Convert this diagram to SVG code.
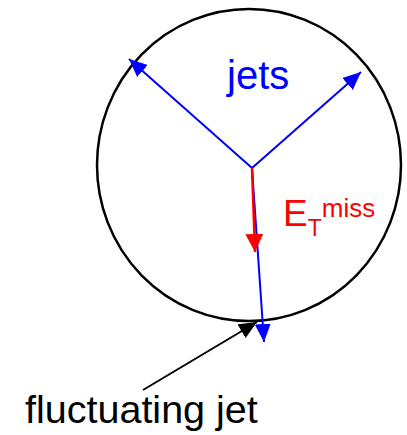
<svg xmlns="http://www.w3.org/2000/svg" width="407" height="435" viewBox="0 0 407 435">
  <style>
    .lbl { font-family: "Liberation Sans", Arial, sans-serif; }
    .blue { stroke: #0000ff; stroke-width: 2; fill: none; }
    .red { stroke: #ff0000; stroke-width: 2.5; fill: none; }
    .black { stroke: #000000; stroke-width: 2; fill: none; }
  </style>
  <defs>
    <marker id="hb" markerUnits="userSpaceOnUse" markerWidth="20" markerHeight="18" refX="18" refY="8" orient="auto">
      <path d="M0,0 L18,8 L0,16 z" fill="#0000ff"/>
    </marker>
    <marker id="hr" markerUnits="userSpaceOnUse" markerWidth="20" markerHeight="20" refX="18" refY="9" orient="auto">
      <path d="M0,0 L18,9 L0,18 z" fill="#ff0000"/>
    </marker>
    <marker id="hk" markerUnits="userSpaceOnUse" markerWidth="20" markerHeight="18" refX="18" refY="8" orient="auto">
      <path d="M0,0 L18,8 L0,16 z" fill="#000000"/>
    </marker>
  </defs>

  <g id="circle">
    <ellipse cx="249" cy="165" rx="152" ry="156" fill="none" stroke="#000" stroke-width="2.5"/>
  </g>

  <g id="connectors">
    <line id="jet-left" class="blue" x1="252" y1="168" x2="129" y2="59" marker-end="url(#hb)"/>
    <line id="jet-right" class="blue" x1="252" y1="168" x2="361" y2="72" marker-end="url(#hb)"/>
    <line id="jet-fluct" class="blue" x1="252" y1="168" x2="264" y2="342" marker-end="url(#hb)"/>
    <line id="met" class="red" x1="252" y1="168" x2="255" y2="252" marker-end="url(#hr)"/>
    <line id="pointer" class="black" x1="143" y1="390" x2="257" y2="322" marker-end="url(#hk)"/>
  </g>

  <g id="label-jets">
    <text class="lbl" x="227" y="89" font-size="40" fill="#0000ff">jets</text>
  </g>

  <g id="label-met">
    <text class="lbl" x="283" y="226" font-size="37" fill="#ff0000">E<tspan font-size="23" dy="10">T</tspan><tspan font-size="26" dy="-19">miss</tspan></text>
  </g>

  <g id="label-fluct">
    <text class="lbl" x="25" y="423" font-size="39.5" fill="#000000">fluctuating jet</text>
  </g>
</svg>
